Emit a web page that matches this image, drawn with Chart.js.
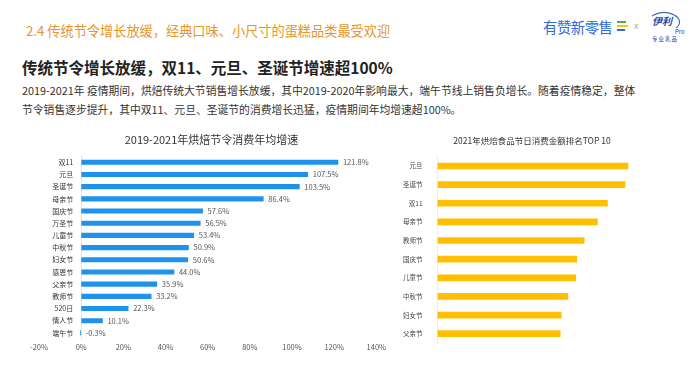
<!DOCTYPE html>
<html>
<head>
<meta charset="utf-8">
<script src="https://cdn.jsdelivr.net/npm/chart.js@4.4.1/dist/chart.umd.min.js"></script>
<style>
  body { margin: 0; background: #fff; font-family: "Noto Sans CJK SC", "Noto Sans", sans-serif; }
  #page { position: relative; width: 700px; height: 372px; overflow: hidden; }
  .abs { position: absolute; white-space: nowrap; }
  #head { left: 26px; top: 21px; font-size: 13.2px; color: #e6962a; }
  #sub { left: 22px; top: 56px; font-size: 15.5px; font-weight: bold; color: #222; }
  #para { left: 22px; top: 81px; font-size: 10.8px; line-height: 18.5px; color: #333; }
  #brand { left: 543px; top: 16px; font-size: 14.4px; color: #2f6bd8; letter-spacing: -0.5px; }
  .stripe { position: absolute; height: 1.6px; }
  #cross { left: 634px; top: 19px; font-size: 9px; color: #aaa; }
  #yili { left: 648px; top: 12px; width: 30px; height: 18px; border: 1.5px solid #2a5bb8; border-radius: 50%;
          border-left-color: transparent; border-bottom-color: transparent; }
  #yiliTxt { left: 652px; top: 13px; font-size: 10px; font-weight: bold; font-style: italic; color: #1d4aa6; }
  #pro { left: 675px; top: 27px; font-size: 6px; color: #1d4aa6; }
  #zy { left: 652px; top: 35px; font-size: 5.5px; color: #1d4aa6; letter-spacing: 1px; }
  .box { position: absolute; }
</style>
</head>
<body>
<div id="page">
  <div class="abs" id="head">2.4 传统节令增长放缓，经典口味、小尺寸的蛋糕品类最受欢迎</div>
  <div class="abs" id="brand">有赞新零售</div>
  <div class="stripe" style="left:617px;top:21px;width:9px;background:#4caf50"></div>
  <div class="stripe" style="left:617px;top:25px;width:11px;background:#ffc107"></div>
  <div class="stripe" style="left:617px;top:29px;width:8px;background:#2f6bd8"></div>
  <div class="abs" id="cross">x</div>
  <div class="abs" id="yili"></div>
  <div class="abs" id="yiliTxt">伊利</div>
  <div class="abs" id="pro">Pro</div>
  <div class="abs" id="zy">专业乳品</div>
  <div class="abs" id="sub">传统节令增长放缓，双11、元旦、圣诞节增速超100%</div>
  <div class="abs" id="para">2019-2021年 疫情期间，烘焙传统大节销售增长放缓，其中2019-2020年影响最大，端午节线上销售负增长。随着疫情稳定，整体<br>节令销售逐步提升，其中双11、元旦、圣诞节的消费增长迅猛，疫情期间年均增速超100%。</div>
  <div class="box" style="left:0;top:125px;width:390px;height:240px"><canvas id="growthChart"></canvas></div>
  <div class="box" style="left:390px;top:125px;width:310px;height:240px"><canvas id="rankChart"></canvas></div>
</div>
<script>
// 2019-2021 年均增速 (%)
const growthLabels = ['双11', '元旦', '圣诞节', '母亲节', '国庆节', '万圣节', '儿童节', '中秋节', '妇女节', '感恩节', '父亲节', '教师节', '520日', '情人节', '端午节'];
const growthValues = [121.8, 107.5, 103.5, 86.4, 57.6, 56.5, 53.4, 50.9, 50.6, 44.0, 35.9, 33.2, 22.3, 10.1, -0.3];
const growthTicks = [-20, 0, 20, 40, 60, 80, 100, 120, 140];

// 2021 节日消费金额 TOP 10 (相对值, 元旦 = 100, 图中无刻度)
const rankLabels = ['元旦', '圣诞节', '双11', '母亲节', '教师节', '国庆节', '儿童节', '中秋节', '妇女节', '父亲节'];
const rankValues = [100, 98.4, 89.2, 83.9, 77.0, 73.1, 72.6, 68.5, 64.9, 64.4];

const FONT = '"Noto Sans CJK SC", "Noto Sans", sans-serif';
Chart.defaults.font.family = FONT;
Chart.defaults.color = '#555';

// 在柱子末端写数值
const valueLabels = {
    id: 'valueLabels',
    afterDatasetsDraw(chart) {
        const ctx = chart.ctx;
        const meta = chart.getDatasetMeta(0);
        const vals = chart.data.datasets[0].data;
        ctx.save();
        ctx.font = '7.5px ' + FONT;
        ctx.fillStyle = '#555';
        ctx.textBaseline = 'middle';
        meta.data.forEach((bar, i) => {
            ctx.fillText(vals[i].toFixed(1) + '%', Math.max(bar.x, bar.base) + 5, bar.y);
        });
        ctx.restore();
    }
};

new Chart(document.getElementById('growthChart'), {
    type: 'bar',
    data: {
        labels: growthLabels,
        datasets: [{
            data: growthValues,
            backgroundColor: '#1f93ec',
            barThickness: 4.5
        }]
    },
    options: {
        indexAxis: 'y',
        responsive: true,
        maintainAspectRatio: false,
        animation: false,
        layout: { padding: { left: 39, right: 6, top: 0, bottom: 9 } },
        plugins: {
            legend: { display: false },
            tooltip: { enabled: false },
            title: {
                display: true,
                text: '2019-2021年烘焙节令消费年均增速',
                color: '#333',
                font: { size: 11, weight: 'normal' },
                padding: { top: 8, bottom: 10 }
            }
        },
        scales: {
            x: {
                min: -20,
                max: 140,
                afterBuildTicks: axis => { axis.ticks = growthTicks.map(v => ({ value: v })); },
                // 只保留 0% 处的竖线
                grid: {
                    drawTicks: false,
                    color: c => (c.tick && c.tick.value === 0 ? '#e3e3e3' : 'rgba(0,0,0,0)')
                },
                border: { display: false },
                ticks: { font: { size: 7.5 }, color: '#555', padding: 4, callback: v => v + '%' }
            },
            y: {
                // 类别标签放在 0% 线左侧
                position: { x: -3.8 },
                grid: { display: false, drawTicks: false },
                border: { display: false },
                ticks: { font: { size: 7 }, color: '#333' }
            }
        }
    },
    plugins: [valueLabels]
});

new Chart(document.getElementById('rankChart'), {
    type: 'bar',
    data: {
        labels: rankLabels,
        datasets: [{
            data: rankValues,
            backgroundColor: '#ffbf00',
            barThickness: 6
        }]
    },
    options: {
        indexAxis: 'y',
        responsive: true,
        maintainAspectRatio: false,
        animation: false,
        layout: { padding: { left: 6, right: 32, top: 2, bottom: 22 } },
        plugins: {
            legend: { display: false },
            tooltip: { enabled: false },
            title: {
                display: true,
                text: '2021年烘焙食品节日消费金额排名TOP 10',
                color: '#333',
                font: { size: 8.5, weight: 'normal' },
                padding: { top: 8.5, bottom: 11 }
            }
        },
        scales: {
            x: {
                min: 0,
                max: 121,
                display: false
            },
            y: {
                grid: { display: false },
                border: { display: true, color: '#ececec' },
                ticks: { font: { size: 6.5 }, color: '#444', padding: 7 }
            }
        }
    }
});
</script>
</body>
</html>
